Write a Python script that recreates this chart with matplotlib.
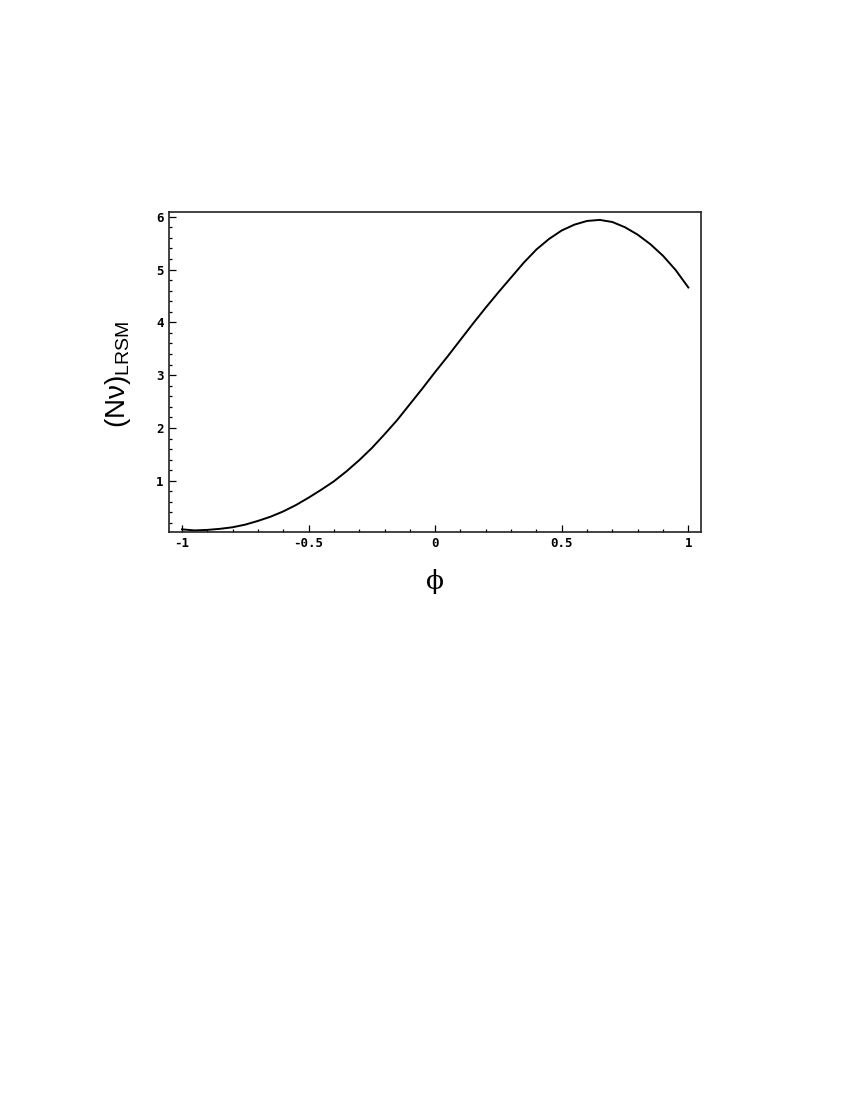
import matplotlib
matplotlib.use("Agg")
import matplotlib.pyplot as plt
from matplotlib.ticker import MultipleLocator, FixedLocator

phi = [-1.00, -0.95, -0.90, -0.85, -0.80, -0.75, -0.70, -0.65, -0.60, -0.55,
       -0.50, -0.45, -0.40, -0.35, -0.30, -0.25, -0.20, -0.15, -0.10, -0.05,
       0.00, 0.05, 0.10, 0.15, 0.20, 0.25, 0.30, 0.35, 0.40, 0.45,
       0.50, 0.55, 0.60, 0.65, 0.70, 0.75, 0.80, 0.85, 0.90, 0.95, 1.00]
n_nu = [0.08, 0.06, 0.07, 0.09, 0.12, 0.17, 0.24, 0.32, 0.42, 0.54,
        0.68, 0.83, 0.99, 1.18, 1.39, 1.62, 1.88, 2.15, 2.45, 2.75,
        3.06, 3.36, 3.67, 3.98, 4.28, 4.57, 4.85, 5.13, 5.38, 5.58,
        5.74, 5.85, 5.92, 5.94, 5.90, 5.80, 5.66, 5.48, 5.26, 4.99, 4.66]

xticks = [-1, -0.5, 0, 0.5, 1]
xticklabels = ["-1", "-0.5", "0", "0.5", "1"]
yticks = [1, 2, 3, 4, 5, 6]
yticklabels = ["1", "2", "3", "4", "5", "6"]

plt.rcParams['mathtext.fontset'] = 'custom'
plt.rcParams['mathtext.rm'] = 'Liberation Sans'

fig = plt.figure(figsize=(8.5, 11), dpi=100)
ax = fig.add_axes([0.1988, 0.5166, 0.6259, 0.2907])
ax.plot(phi, n_nu, color='black', lw=1.4)
ax.set_xlim(-1.0514, 1.05)
ax.set_ylim(0.035, 6.09)

ax.xaxis.set_major_locator(FixedLocator(xticks))
ax.set_xticklabels(xticklabels)
ax.xaxis.set_minor_locator(MultipleLocator(0.1))
ax.yaxis.set_major_locator(FixedLocator(yticks))
ax.set_yticklabels(yticklabels)
ax.yaxis.set_minor_locator(MultipleLocator(0.2))

ax.tick_params(which='both', direction='in', top=False, right=False, width=0.9, color='black')
ax.tick_params(which='major', length=5, pad=4)
ax.tick_params(which='minor', length=2.5)
for lab in ax.get_xticklabels() + ax.get_yticklabels():
    lab.set_fontfamily('DejaVu Sans Mono')
    lab.set_fontweight('bold')
    lab.set_fontsize(9)
for s in ax.spines.values():
    s.set_linewidth(1.2)
    s.set_color('#222222')

fig.text(118/850, 1 - 374/1100, r'$\mathregular{(N\nu)_{LRSM}}$', rotation=90,
         ha='center', va='center', fontsize=20, family='Liberation Sans')
fig.text(435/850, 1 - 582/1100, '\u03d5', ha='center', va='center',
         fontsize=19, family=['DejaVu Serif'])

fig.savefig('out.png', dpi=100)
